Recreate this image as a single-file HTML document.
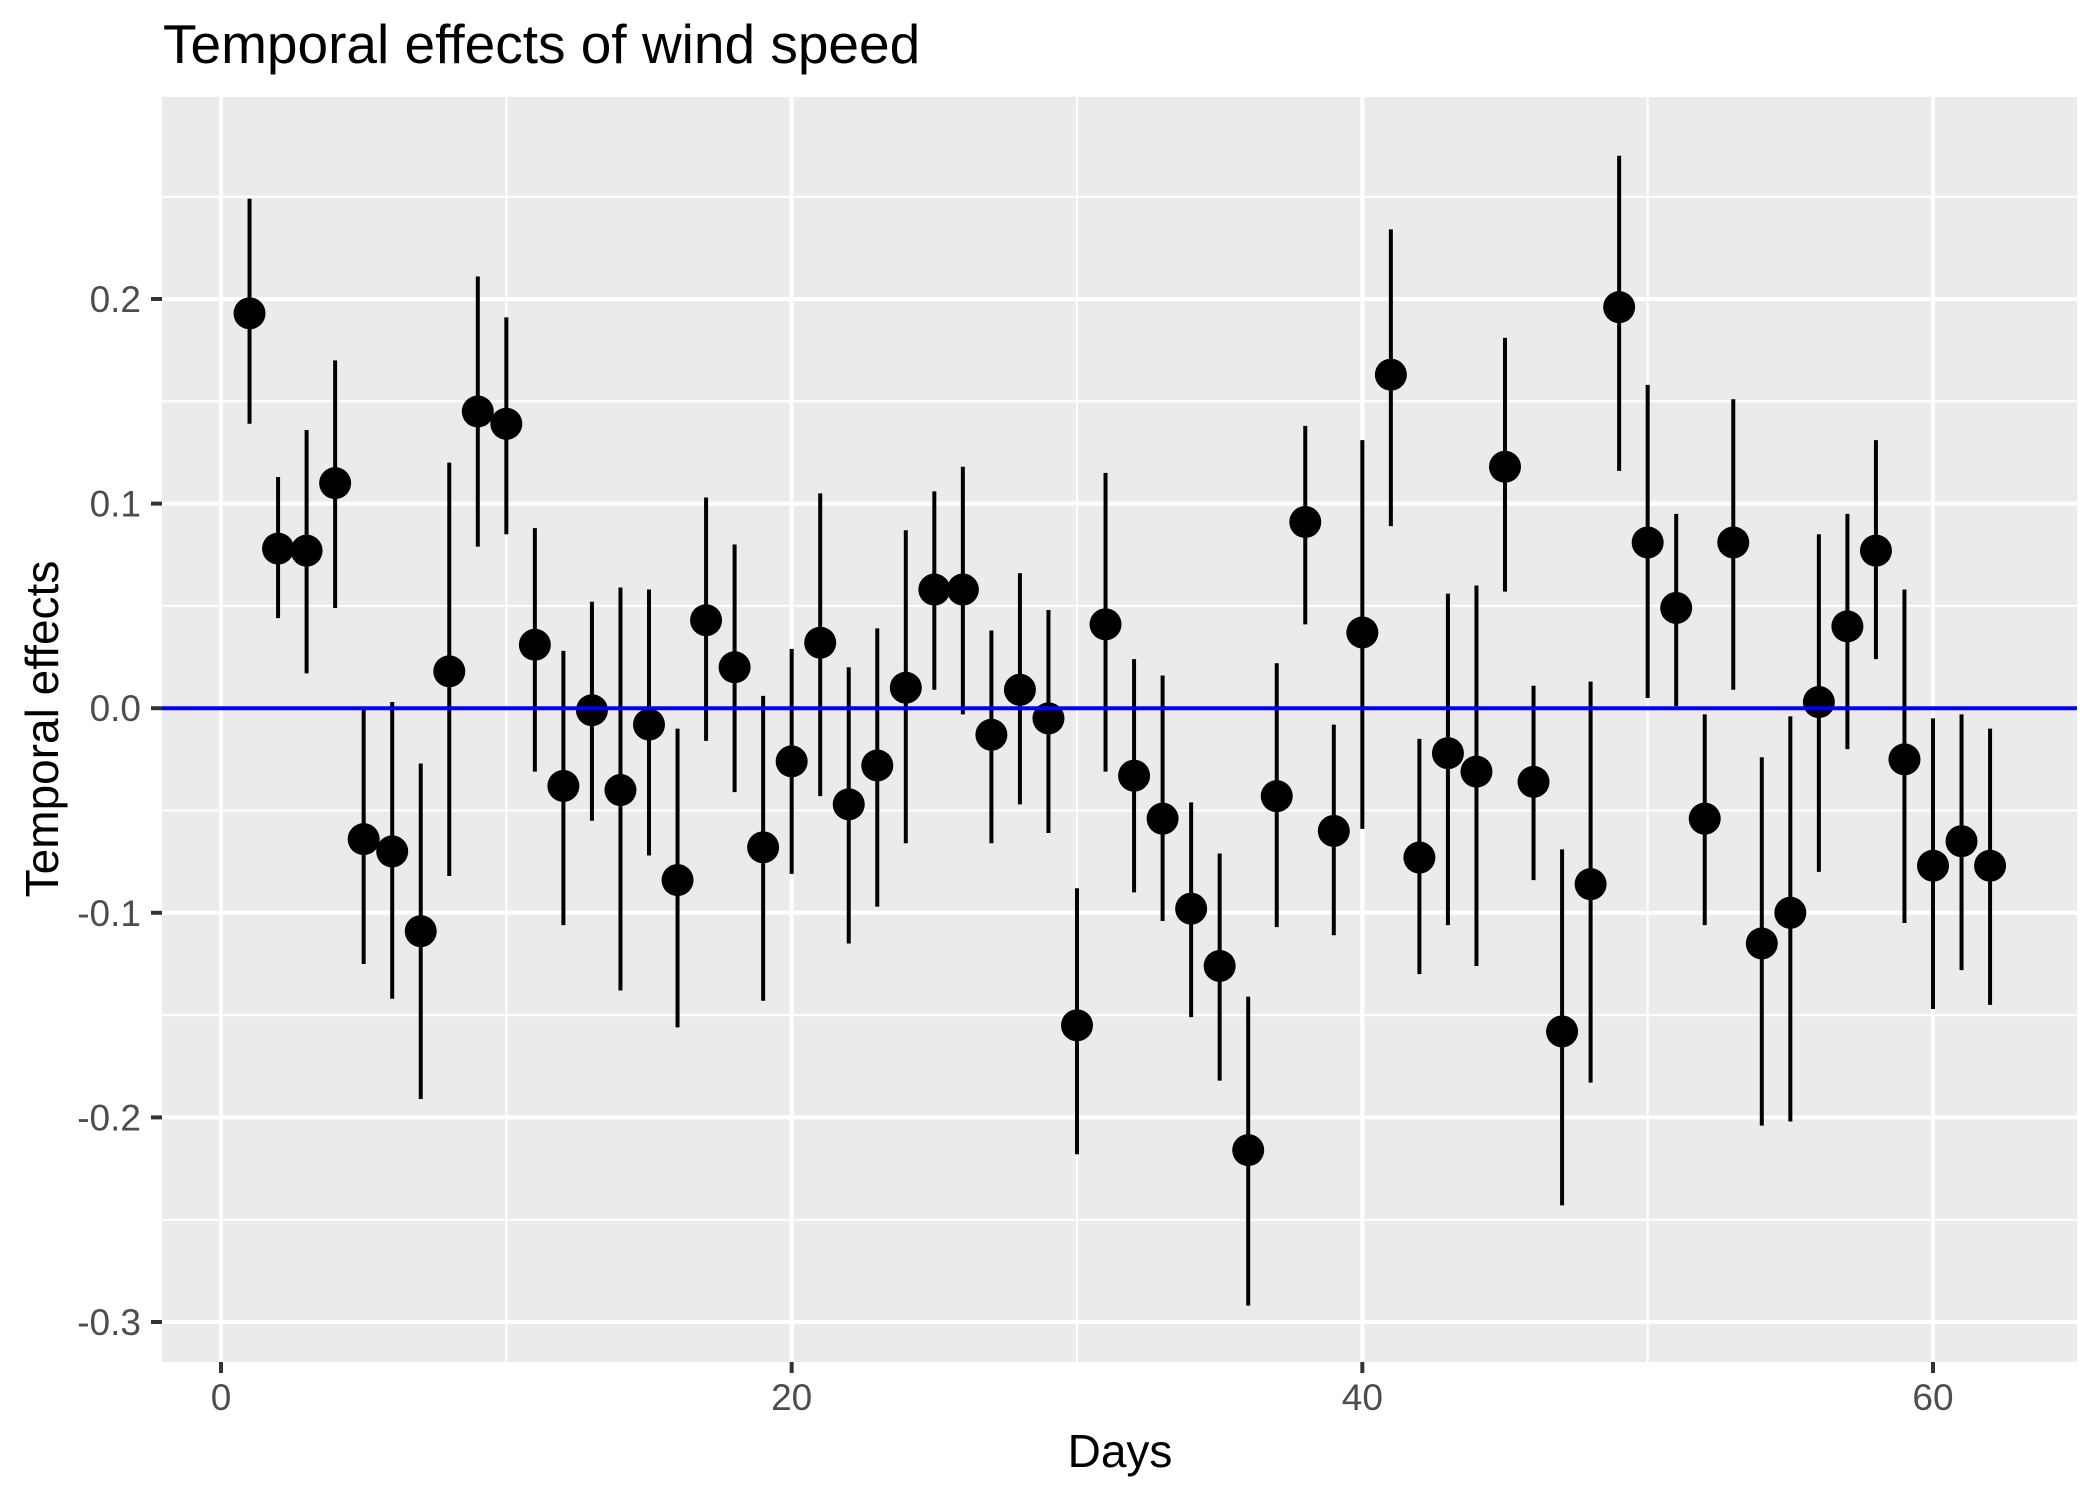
<!DOCTYPE html>
<html><head><meta charset="utf-8"><style>
body{margin:0;background:#fff;}
svg{display:block;font-family:"Liberation Sans",sans-serif;}
</style></head><body>
<svg id="chart" width="2100" height="1499" viewBox="0 0 2100 1499">
<text x="163" y="63" font-size="55" fill="#000">Temporal effects of wind speed</text>
<rect x="162" y="97" width="1915" height="1265" fill="#ebebeb"/>
<g id="grid"></g>
<g id="marks"></g>
<g id="axes"></g>
<text x="1120" y="1467" font-size="46" text-anchor="middle" fill="#000">Days</text>
<text transform="translate(58,729) rotate(-90)" font-size="46" text-anchor="middle" fill="#000">Temporal effects</text>
</svg>
<script>
const days=[1,2,3,4,5,6,7,8,9,10,11,12,13,14,15,16,17,18,19,20,21,22,23,24,25,26,27,28,29,30,31,32,33,34,35,36,37,38,39,40,41,42,43,44,45,46,47,48,49,50,51,52,53,54,55,56,57,58,59,60,61,62];
const estimates=[0.193,0.078,0.077,0.110,-0.064,-0.070,-0.109,0.018,0.145,0.139,0.031,-0.038,-0.001,-0.040,-0.008,-0.084,0.043,0.020,-0.068,-0.026,0.032,-0.047,-0.028,0.010,0.058,0.058,-0.013,0.009,-0.005,-0.155,0.041,-0.033,-0.054,-0.098,-0.126,-0.216,-0.043,0.091,-0.060,0.037,0.163,-0.073,-0.022,-0.031,0.118,-0.036,-0.158,-0.086,0.196,0.081,0.049,-0.054,0.081,-0.115,-0.100,0.003,0.040,0.077,-0.025,-0.077,-0.065,-0.077];
const lower=[0.139,0.044,0.017,0.049,-0.125,-0.142,-0.191,-0.082,0.079,0.085,-0.031,-0.106,-0.055,-0.138,-0.072,-0.156,-0.016,-0.041,-0.143,-0.081,-0.043,-0.115,-0.097,-0.066,0.009,-0.003,-0.066,-0.047,-0.061,-0.218,-0.031,-0.090,-0.104,-0.151,-0.182,-0.292,-0.107,0.041,-0.111,-0.059,0.089,-0.130,-0.106,-0.126,0.057,-0.084,-0.243,-0.183,0.116,0.005,0.001,-0.106,0.009,-0.204,-0.202,-0.080,-0.020,0.024,-0.105,-0.147,-0.128,-0.145];
const upper=[0.249,0.113,0.136,0.170,0.0,0.003,-0.027,0.120,0.211,0.191,0.088,0.028,0.052,0.059,0.058,-0.010,0.103,0.080,0.006,0.029,0.105,0.020,0.039,0.087,0.106,0.118,0.038,0.066,0.048,-0.088,0.115,0.024,0.016,-0.046,-0.071,-0.141,0.022,0.138,-0.008,0.131,0.234,-0.015,0.056,0.060,0.181,0.011,-0.069,0.013,0.270,0.158,0.095,-0.003,0.151,-0.024,-0.004,0.085,0.095,0.131,0.058,-0.005,-0.003,-0.010];
const xTicks=[0,20,40,60];
const xMinor=[10,30,50];
const yTicks=[-0.3,-0.2,-0.1,0.0,0.1,0.2];
const yTickLabels=["-0.3","-0.2","-0.1","0.0","0.1","0.2"];
const yMinor=[-0.25,-0.15,-0.05,0.05,0.15,0.25];
const refLine=[0];

const X=d=>221+(d-0)*(1933-221)/60;
const Y=v=>708.2-v*2046;
const NS="http://www.w3.org/2000/svg";
function mk(tag,parent,attrs){const e=document.createElementNS(NS,tag);for(const k in attrs)e.setAttribute(k,attrs[k]);parent.appendChild(e);return e;}
const grid=document.getElementById('grid'),marks=document.getElementById('marks'),axes=document.getElementById('axes');
const L=162,R=2077,T=97,B=1362;
yMinor.forEach(v=>{const e=mk('line',grid,{x1:L,x2:R,y1:Y(v),y2:Y(v),stroke:'#fff','stroke-width':2});

});
xMinor.forEach(v=>{const e=mk('line',grid,{x1:X(v),x2:X(v),y1:T,y2:B,stroke:'#fff','stroke-width':2});

});
yTicks.forEach((v,i)=>{const e=mk('line',grid,{x1:L,x2:R,y1:Y(v),y2:Y(v),stroke:'#fff','stroke-width':4});


const t=mk('line',axes,{x1:151,x2:162,y1:Y(v),y2:Y(v),stroke:'#333','stroke-width':4});


const l=mk('text',axes,{x:141,y:Y(v)+13,'font-size':37,'text-anchor':'end',fill:'#4d4d4d'});l.textContent=yTickLabels[i];

});
xTicks.forEach(v=>{const e=mk('line',grid,{x1:X(v),x2:X(v),y1:T,y2:B,stroke:'#fff','stroke-width':4});


const t=mk('line',axes,{x1:X(v),x2:X(v),y1:B,y2:B+11,stroke:'#333','stroke-width':4});


const l=mk('text',axes,{x:X(v),y:1410,'font-size':37,'text-anchor':'middle',fill:'#4d4d4d'});l.textContent=String(v);

});
days.forEach((d,i)=>{
const eb=mk('line',marks,{x1:X(d),x2:X(d),y1:Y(lower[i]),y2:Y(upper[i]),stroke:'#000','stroke-width':4});


const c=mk('circle',marks,{cx:X(d),cy:Y(estimates[i]),r:16,fill:'#000'});


});
refLine.forEach(v=>{const e=mk('line',marks,{x1:L,x2:R,y1:Y(v),y2:Y(v),stroke:'#0000ff','stroke-width':4});

});
</script>
</body></html>
